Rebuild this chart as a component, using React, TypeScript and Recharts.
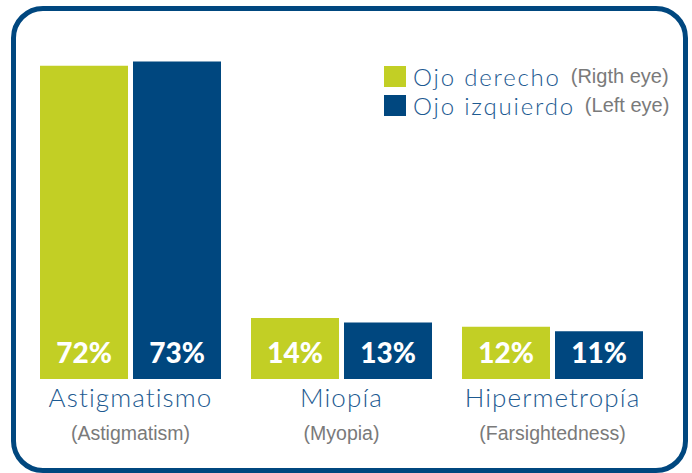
import { BarChart, Bar, XAxis, YAxis, LabelList } from 'recharts';

const categories = ['Astigmatismo', 'Miopía', 'Hipermetropía'];
const categoriesEn = ['(Astigmatism)', '(Myopia)', '(Farsightedness)'];
const rightEye = [72, 14, 12];
const leftEye = [73, 13, 11];

const seriesNames = ['Ojo derecho', 'Ojo izquierdo'];
const seriesNamesEn = ['(Rigth eye)', '(Left eye)'];

const GREEN = '#c2cf25';
const BLUE = '#00477f';
const TITLE_BLUE = '#1d5a91';
const GRAY = '#7a7a7a';
const SANS = "'Liberation Sans', Arial, sans-serif";

const data = categories.map((cat, i) => ({
  cat,
  derecho: rightEye[i],
  izquierdo: leftEye[i],
}));

function CategoryTick(props: any) {
  const { x, y, payload } = props;
  const en = categoriesEn[categories.indexOf(payload.value)];
  return (
    <g>
      <text
        x={x}
        y={y + 28}
        textAnchor="middle"
        fill={TITLE_BLUE}
        fontFamily="Lato, 'Noto Sans', sans-serif"
        fontSize={26}
        fontWeight={300}
        letterSpacing={1.1}
      >
        {payload.value}
      </text>
      <text
        x={x}
        y={y + 61}
        textAnchor="middle"
        fill={GRAY}
        fontFamily={SANS}
        fontSize={19.5}
      >
        {en}
      </text>
    </g>
  );
}

function ValueLabel(props: any) {
  const { x, y, width, height, value } = props;
  return (
    <text
      x={x + width / 2}
      y={y + height - 16}
      textAnchor="middle"
      fill="#ffffff"
      fontFamily="Lato, 'Noto Sans', sans-serif"
      fontSize={28}
      fontWeight={900}
    >
      {value}%
    </text>
  );
}

function LegendBox() {
  const colors = [GREEN, BLUE];
  return (
    <div style={{ display: 'flex', flexDirection: 'column' }}>
      {seriesNames.map((name, i) => (
        <div key={name} style={{ display: 'flex', alignItems: 'center', height: 29 }}>
          <div style={{ width: 22, height: 21, background: colors[i], marginRight: 7 }} />
          <span
            style={{
              color: TITLE_BLUE,
              fontFamily: "Lato, 'Noto Sans', sans-serif",
              fontSize: 24,
              fontWeight: 300,
              letterSpacing: 1.8,
              lineHeight: '29px',
              marginRight: 10,
            }}
          >
            {name}
          </span>
          <span
            style={{
              color: GRAY,
              fontFamily: SANS,
              fontSize: 20,
              lineHeight: '29px',
            }}
          >
            {seriesNamesEn[i]}
          </span>
        </div>
      ))}
    </div>
  );
}

export default function App() {
  return (
    <div style={{ position: 'absolute', left: 0, top: 0, width: 692, height: 473, background: '#fff', overflow: 'hidden' }}>
      <div
        style={{
          position: 'absolute',
          left: 11,
          top: 6,
          width: 677,
          height: 467,
          boxSizing: 'border-box',
          border: `5px solid ${BLUE}`,
          borderRadius: 32,
        }}
      />
      <div style={{ position: 'absolute', left: 0, top: 0 }}>
        <BarChart
          width={692}
          height={473}
          data={data}
          margin={{ top: 31, right: 34, left: 25, bottom: 0 }}
          barGap={5}
        >
          <XAxis
            dataKey="cat"
            height={94}
            axisLine={false}
            tickLine={false}
            tickSize={0}
            tickMargin={0}
            interval={0}
            tick={<CategoryTick />}
          />
          <YAxis hide domain={[0, 80]} />
          <Bar dataKey="derecho" name={seriesNames[0]} fill={GREEN} barSize={88} isAnimationActive={false}>
            <LabelList dataKey="derecho" content={<ValueLabel />} />
          </Bar>
          <Bar dataKey="izquierdo" name={seriesNames[1]} fill={BLUE} barSize={88} isAnimationActive={false}>
            <LabelList dataKey="izquierdo" content={<ValueLabel />} />
          </Bar>
        </BarChart>
      </div>
      <div style={{ position: 'absolute', left: 384, top: 62 }}>
        <LegendBox />
      </div>
    </div>
  );
}
